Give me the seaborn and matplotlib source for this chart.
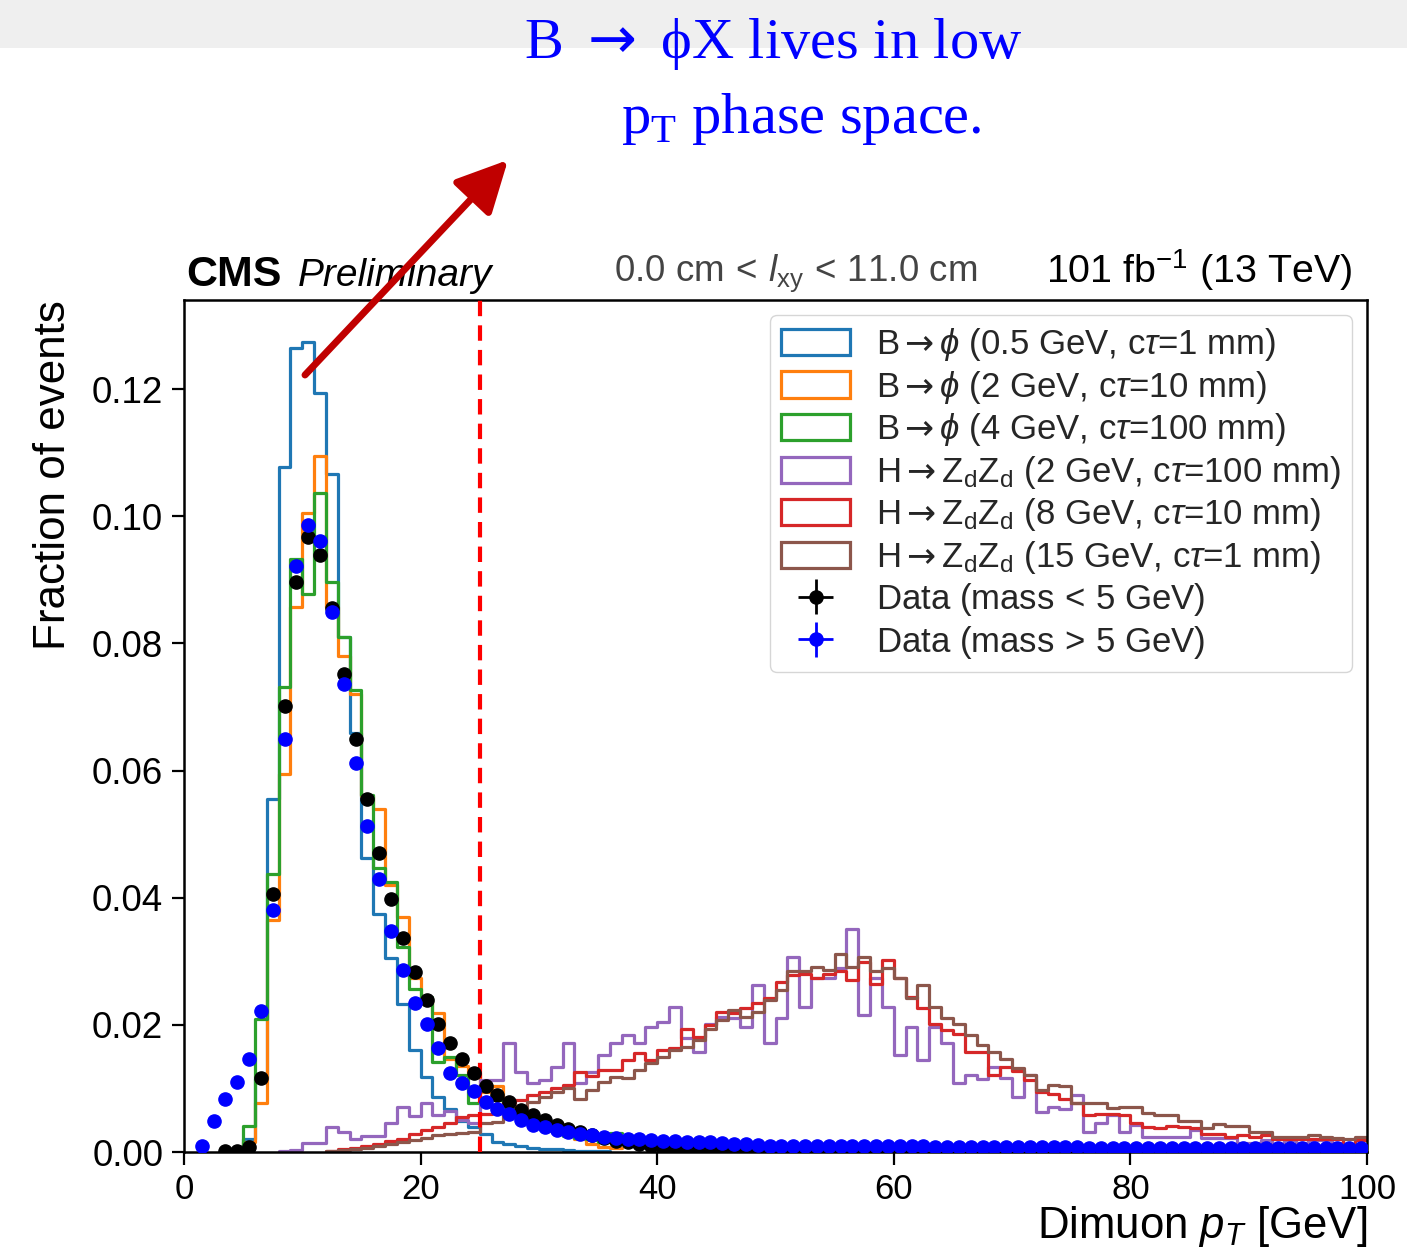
import numpy as np
import pandas as pd
import matplotlib
matplotlib.use("Agg")
import matplotlib.pyplot as plt
import seaborn as sns
from matplotlib.patches import Patch, Rectangle

# ---------------- data (1 GeV bins) ----------------
# B -> phi (0.5 GeV, ctau=1 mm), bins starting at 4 GeV
bphi05_start = 4
bphi05_vals = [0.0003, 0.0020, 0.0115, 0.0555, 0.1078, 0.1265, 0.1274, 0.1194, 0.1066, 0.0810,
               0.0659, 0.0462, 0.0375, 0.0305, 0.0232, 0.0160, 0.0118, 0.0087, 0.0068, 0.0048,
               0.0040, 0.0029, 0.0016, 0.0012, 0.0009, 0.0007, 0.0005, 0.0004, 0.0003, 0.0002,
               0.0002, 0.0001]
# B -> phi (2 GeV, ctau=10 mm)
bphi2_start = 4
bphi2_vals = [0.0002, 0.0015, 0.0077, 0.0365, 0.0595, 0.0857, 0.1005, 0.1095, 0.0857, 0.0780,
              0.0720, 0.0560, 0.0540, 0.0420, 0.0370, 0.0273, 0.0240, 0.0218, 0.0147, 0.0135,
              0.0125, 0.0095, 0.0104, 0.0072, 0.0058, 0.0048, 0.0042, 0.0035, 0.0027, 0.0020,
              0.0013, 0.0008, 0.0006]
# B -> phi (4 GeV, ctau=100 mm)
bphi4_start = 4
bphi4_vals = [0.0003, 0.0041, 0.0209, 0.0437, 0.0732, 0.0933, 0.0878, 0.1036, 0.0897, 0.0810,
              0.0726, 0.0561, 0.0446, 0.0425, 0.0323, 0.0257, 0.0244, 0.0142, 0.0150, 0.0121,
              0.0077, 0.0085, 0.0082, 0.0068, 0.0060, 0.0050, 0.0042, 0.0033, 0.0025, 0.0022,
              0.0020, 0.0016, 0.0030]
# H -> ZdZd (2 GeV, ctau=100 mm), bins starting at 8 GeV
hzd2_start = 8
hzd2_vals = [0.0002, 0.0003, 0.0014, 0.0014, 0.0040, 0.0032, 0.0021, 0.0025, 0.0025, 0.0045,
             0.0071, 0.0056, 0.0077, 0.0058, 0.0064, 0.0050, 0.0045, 0.0113, 0.0113, 0.0171,
             0.0126, 0.0108, 0.0113, 0.0134, 0.0171, 0.0108, 0.0126, 0.0153, 0.0171, 0.0184,
             0.0171, 0.0197, 0.0205, 0.0228, 0.0180, 0.0158, 0.0202, 0.0213, 0.0210, 0.0197,
             0.0263, 0.0171, 0.0210, 0.0306, 0.0228, 0.0273, 0.0273, 0.0289, 0.0350, 0.0215,
             0.0273, 0.0228, 0.0153, 0.0197, 0.0145, 0.0197, 0.0171, 0.0108, 0.0121, 0.0115,
             0.0134, 0.0117, 0.0087, 0.0121, 0.0063, 0.0071, 0.0068, 0.0090, 0.0032, 0.0045,
             0.0058, 0.0032, 0.0043, 0.0024, 0.0024, 0.0024, 0.0024, 0.0034, 0.0022, 0.0022,
             0.0022, 0.0014, 0.0014, 0.0019, 0.0009, 0.0019, 0.0014, 0.0019, 0.0019, 0.0014,
             0.0011, 0.0009]
# H -> ZdZd (8 GeV, ctau=10 mm), bins starting at 12 GeV
hzd8_start = 12
hzd8_vals = [0.0002, 0.0004, 0.0006, 0.0009, 0.0013, 0.0017, 0.0021, 0.0028, 0.0034, 0.0040,
             0.0045, 0.0055, 0.0058, 0.0060, 0.0072, 0.0077, 0.0082, 0.0089, 0.0095, 0.0100,
             0.0105, 0.0126, 0.0120, 0.0129, 0.0129, 0.0145, 0.0155, 0.0145, 0.0160, 0.0163,
             0.0194, 0.0181, 0.0200, 0.0220, 0.0218, 0.0226, 0.0234, 0.0242, 0.0268, 0.0278,
             0.0280, 0.0273, 0.0280, 0.0284, 0.0271, 0.0299, 0.0265, 0.0302, 0.0273, 0.0244,
             0.0226, 0.0202, 0.0192, 0.0185, 0.0158, 0.0158, 0.0121, 0.0134, 0.0128, 0.0113,
             0.0095, 0.0091, 0.0084, 0.0077, 0.0058, 0.0060, 0.0060, 0.0058, 0.0046, 0.0040,
             0.0037, 0.0041, 0.0040, 0.0037, 0.0029, 0.0029, 0.0024, 0.0026, 0.0024, 0.0026,
             0.0021, 0.0020, 0.0021, 0.0020, 0.0020, 0.0020, 0.0011, 0.0019]
# H -> ZdZd (15 GeV, ctau=1 mm), bins starting at 12 GeV
hzd15_start = 12
hzd15_vals = [0.0002, 0.0003, 0.0005, 0.0007, 0.0009, 0.0012, 0.0015, 0.0019, 0.0022, 0.0026,
              0.0028, 0.0030, 0.0032, 0.0045, 0.0047, 0.0058, 0.0069, 0.0079, 0.0087, 0.0095,
              0.0100, 0.0084, 0.0097, 0.0110, 0.0118, 0.0116, 0.0129, 0.0140, 0.0150, 0.0160,
              0.0165, 0.0176, 0.0194, 0.0207, 0.0223, 0.0213, 0.0220, 0.0239, 0.0255, 0.0284,
              0.0284, 0.0291, 0.0286, 0.0312, 0.0291, 0.0307, 0.0284, 0.0289, 0.0273, 0.0242,
              0.0263, 0.0228, 0.0210, 0.0202, 0.0184, 0.0168, 0.0158, 0.0147, 0.0132, 0.0121,
              0.0097, 0.0105, 0.0104, 0.0077, 0.0077, 0.0077, 0.0069, 0.0070, 0.0070, 0.0061,
              0.0058, 0.0058, 0.0048, 0.0049, 0.0037, 0.0044, 0.0041, 0.0041, 0.0032, 0.0032,
              0.0024, 0.0024, 0.0024, 0.0026, 0.0024, 0.0022, 0.0021, 0.0024]

# Data (mass < 5 GeV), points at bin centres starting 3.5 GeV
data_low_start = 3.5
data_low_vals = [0.0002, 0.0002, 0.0008, 0.0116, 0.0405, 0.0702, 0.0897, 0.0967,
                 0.0939, 0.0856, 0.0752, 0.0650, 0.0555, 0.0471, 0.0398, 0.0336, 0.0283, 0.0239,
                 0.0202, 0.0171, 0.0146, 0.0125, 0.0104, 0.0090, 0.0078, 0.0066, 0.0058, 0.0050,
                 0.0042, 0.0036, 0.0031, 0.0026, 0.0022, 0.0018, 0.0015, 0.0012, 0.0009, 0.0007,
                 0.0006, 0.0005, 0.0005, 0.0004, 0.0004, 0.0003, 0.0003, 0.0003, 0.0003, 0.0002,
                 0.0002, 0.0002, 0.0002, 0.0002, 0.0002, 0.0002, 0.0002, 0.0002, 0.0002, 0.0002]
# Data (mass > 5 GeV), points starting 1.5 GeV
data_high_start = 1.5
data_high_vals = [0.0010, 0.0048, 0.0083, 0.0110, 0.0146, 0.0222, 0.0380, 0.0650, 0.0922, 0.0986,
                  0.0961, 0.0849, 0.0736, 0.0612, 0.0513, 0.0429, 0.0347, 0.0286, 0.0235, 0.0202,
                  0.0164, 0.0125, 0.0108, 0.0096, 0.0079, 0.0067, 0.0060, 0.0050, 0.0043, 0.0039,
                  0.0034, 0.0031, 0.0028, 0.0026, 0.0024, 0.0022, 0.0021, 0.0020, 0.0019, 0.0018,
                  0.0017, 0.0016, 0.0015, 0.0015, 0.0014, 0.0013, 0.0012, 0.0011, 0.0010, 0.0010,
                  0.0010, 0.0009, 0.0009, 0.0009, 0.0009, 0.0009, 0.0009, 0.0009, 0.0009, 0.0009,
                  0.0009, 0.0009, 0.0008, 0.0008, 0.0008, 0.0008, 0.0008, 0.0008, 0.0008, 0.0008,
                  0.0008, 0.0008, 0.0008, 0.0008, 0.0008, 0.0007, 0.0007, 0.0007, 0.0007, 0.0007,
                  0.0007, 0.0007, 0.0007, 0.0007, 0.0007, 0.0007, 0.0007, 0.0007, 0.0007, 0.0007,
                  0.0007, 0.0007, 0.0007, 0.0006, 0.0006, 0.0006, 0.0006, 0.0006, 0.0006]

ARW = r"$\mathsf{\rightarrow}$"
hist_labels = [r"B" + ARW + r"$\phi$ (0.5 GeV, c$\tau$=1 mm)",
               r"B" + ARW + r"$\phi$ (2 GeV, c$\tau$=10 mm)",
               r"B" + ARW + r"$\phi$ (4 GeV, c$\tau$=100 mm)",
               r"H" + ARW + r"$\mathrm{Z_dZ_d}$ (2 GeV, c$\tau$=100 mm)",
               r"H" + ARW + r"$\mathrm{Z_dZ_d}$ (8 GeV, c$\tau$=10 mm)",
               r"H" + ARW + r"$\mathrm{Z_dZ_d}$ (15 GeV, c$\tau$=1 mm)"]
data_labels = [r"Data (mass$\,<\,$5 GeV)", r"Data (mass$\,>\,$5 GeV)"]
hist_colors = ["#1f77b4", "#ff7f0e", "#2ca02c", "#9467bd", "#d62728", "#8c564b"]

# ---------------- style ----------------
sns.set_style("ticks")
plt.rcParams["font.family"] = ["Liberation Sans", "DejaVu Sans"]
plt.rcParams["mathtext.fontset"] = "custom"
plt.rcParams["mathtext.rm"] = "Liberation Sans"
plt.rcParams["mathtext.it"] = "Liberation Sans:italic"
plt.rcParams["mathtext.bf"] = "Liberation Sans:bold"
plt.rcParams["mathtext.sf"] = "DejaVu Sans"

W, H = 1407, 1247
fig = plt.figure(figsize=(W / 100, H / 100), dpi=100)
fig.patch.set_facecolor("white")
ax = fig.add_axes([184 / W, 1 - 1152 / H, (1367 - 184) / W, (1152 - 300) / H])

hists = [(bphi05_start, bphi05_vals), (bphi2_start, bphi2_vals), (bphi4_start, bphi4_vals),
         (hzd2_start, hzd2_vals), (hzd8_start, hzd8_vals), (hzd15_start, hzd15_vals)]
for (start, vals), col in zip(hists, hist_colors):
    edges = [float(start + k) for k in range(len(vals) + 1)]
    df = pd.DataFrame({"pt": [e + 0.5 for e in edges[:-1]], "w": vals})
    sns.histplot(data=df, x="pt", weights="w", bins=edges, element="step", fill=False,
                 color=col, linewidth=2.3, ax=ax, zorder=2)

ax.axvline(25, color="#ff0000", lw=3.0, ls=(0, (3.7, 2.2)), zorder=3)

xl = data_low_start + np.arange(len(data_low_vals))
xh = data_high_start + np.arange(len(data_high_vals))
e1 = ax.errorbar(xl, data_low_vals, xerr=0.5, yerr=np.zeros(len(xl)), fmt="o", color="black",
                 ms=9.5, elinewidth=2, capsize=0, zorder=5)
e2 = ax.errorbar(xh, data_high_vals, xerr=0.5, yerr=np.zeros(len(xh)), fmt="o", color="#0000ff",
                 ms=9.5, elinewidth=2, capsize=0, zorder=6)

ax.set_xlim(0, 100)
ax.set_ylim(0, 0.134)
ax.set_xticks([0, 20, 40, 60, 80, 100])
ax.set_yticks([0, 0.02, 0.04, 0.06, 0.08, 0.10, 0.12])
ax.yaxis.set_major_formatter(matplotlib.ticker.FormatStrFormatter("%.2f"))
ax.tick_params(axis="both", labelsize=26.5, length=9, width=1.6, direction="out", color="black",
               labelcolor="black", pad=6)
ax.tick_params(axis="x", labelsize=25)
for sp in ax.spines.values():
    sp.set_color("black")
    sp.set_linewidth(1.8)
    sp.set_visible(True)

ax.set_xlabel(r"Dimuon $p_{T}$ [GeV]", fontsize=31.5, loc="right", labelpad=-1.5, color="black")
ax.set_ylabel("Fraction of events", fontsize=31.7, loc="top", labelpad=13, color="black")

handles = [Patch(facecolor="none", edgecolor=c, linewidth=2.3) for c in hist_colors] + [e1, e2]
leg = ax.legend(handles, hist_labels + data_labels, loc="upper right", fontsize=25,
                frameon=True, fancybox=True, framealpha=0.8, edgecolor="#cccccc",
                handlelength=2.0, handleheight=0.78, handletextpad=0.75, labelspacing=0.16,
                borderaxespad=0.43, borderpad=0.32)

# header texts
ax.text(0.0017, 1.017, "CMS", transform=ax.transAxes, fontsize=31, fontweight="bold",
        ha="left", va="baseline", color="black")
ax.text(0.0963, 1.017, "Preliminary", transform=ax.transAxes, fontsize=28, style="italic",
        ha="left", va="baseline", color="black")
ax.text(0.3635, 1.022, r"0.0 cm$\,<\,l_{\mathrm{xy}}\,<\,$11.0 cm", transform=ax.transAxes,
        fontsize=26.5, ha="left", va="baseline", color="#444444")
ax.text(0.9873, 1.020, r"101 fb$^{-1}$ (13 TeV)", transform=ax.transAxes, fontsize=28.4,
        ha="right", va="baseline", color="black")

# slide overlay: grey band, annotation text and arrow
fig.patches.append(Rectangle((0, 1 - 48 / H), 1, 48 / H, transform=fig.transFigure,
                             facecolor="#efefef", edgecolor="none", zorder=0))
serif = ["Liberation Serif", "DejaVu Serif"]
fig.text(773 / W, 1 - 58 / H, "B " + ARW + " \u03d5X lives in low", ha="center", va="baseline",
         fontsize=42, color="#0000ff", family=serif)
fig.text(801 / W, 1 - 133 / H, r"p$_\mathregular{T}$ phase space.", ha="center", va="baseline",
         fontsize=42, color="#0000ff", family=serif)
ax.annotate("", xy=(508, H - 160), xytext=(305, H - 375), xycoords="figure pixels",
            textcoords="figure pixels",
            arrowprops=dict(arrowstyle="-|>,head_length=0.7,head_width=0.35", color="#c00000",
                            lw=5, mutation_scale=45, shrinkA=0, shrinkB=0),
            annotation_clip=False, zorder=20)

fig.savefig("out.png", dpi=100)
